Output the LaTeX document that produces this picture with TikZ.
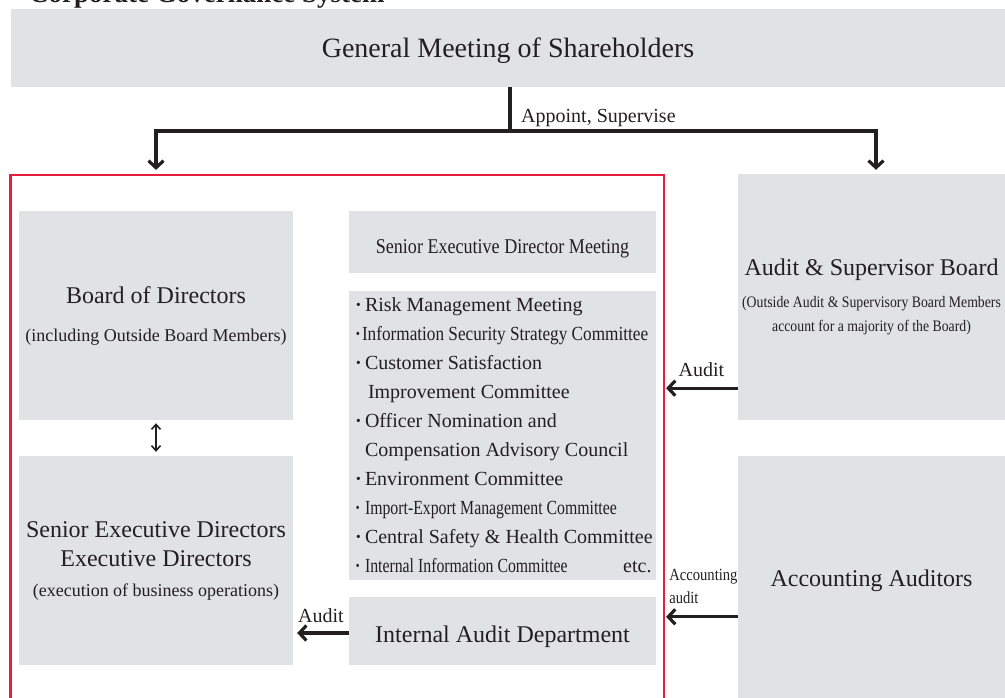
\documentclass[tikz,border=0pt]{standalone}
\usepackage{fontspec}
\setmainfont{Liberation Serif}
\newfontfamily\condfont[FakeStretch=0.86]{Liberation Serif}
\newfontfamily\narrowfont[FakeStretch=0.79]{Liberation Serif}
\usepackage{tikz}
\usetikzlibrary{arrows.meta,calc,positioning}
\definecolor{boxgray}{RGB}{225,226,228}
\definecolor{framered}{RGB}{232,28,62}
\definecolor{inkblack}{RGB}{35,31,32}
\newcommand{\fs}[2]{\fontsize{#1}{#2}\selectfont}
\newcommand{\bul}{\hspace*{4.5pt}\makebox[10pt][l]{\bfseries ·}}
\newcommand{\bulc}{\hspace*{4.5pt}\makebox[7pt][l]{\bfseries ·}}
\newcommand{\subf}{\condfont\fs{16}{24}}

\tikzset{
	box/.style={fill=boxgray, inner sep=0pt},
	one/.style={text depth=0pt},
	conn/.style={line width=3.2pt, draw=inkblack},
	arr/.style={conn, -{Straight Barb[length=7pt,width=15pt]}},
	dbl/.style={line width=1.6pt, draw=inkblack, {Straight Barb[length=5pt,width=9pt]}-{Straight Barb[length=5pt,width=9pt]}},
	lbl/.style={inner sep=0pt, font=\fs{20}{22}},
}

\begin{document}
\begin{tikzpicture}[x=1pt, y=-1pt, every node/.style={text=inkblack}]
			%%%%% START %%%%%
			\useasboundingbox (0,0) rectangle (1005,697);
			
			\node[anchor=base west, inner sep=0pt, font=\bfseries\fs{27}{30}] (title) at (29,2.5) {Corporate Governance System};
			
			\node[box, one, minimum width=994pt, minimum height=78pt, font=\fs{28}{30}] (gm) at (508,48) {General Meeting of Shareholders};
			
			\node[draw=framered, line width=2.2pt, inner sep=0pt, minimum width=653.5pt, minimum height=545pt] (grp) at (337.25,447.5) {};
			
			\node[box, minimum width=274pt, minimum height=209pt, align=center, font=\fs{24}{38}] (bod) at (156,315.5)
				{Board of Directors\\{\fs{18}{38}(including Outside Board Members)}};
			\node[box, minimum width=274pt, minimum height=209pt, align=center, font=\fs{24}{29.5}] (sed) at (156,560.5)
				{Senior Executive Directors\\Executive Directors\\{\fs{18}{29.5}(execution of business operations)}};
			
			\node[box, text height=22pt, text depth=0pt, minimum width=307pt, minimum height=62pt, font=\condfont\fs{21}{24}] (sedm) at (502.5,242) {Senior Executive Director Meeting};
			\node[box, minimum width=307pt, minimum height=289pt, align=left, font=\fs{20}{29}] (cmt) at (502.5,435.5)
				{\bul Risk Management Meeting\\
				{\condfont\bulc Information Security Strategy Committee}\\
				\bul Customer Satisfaction\\
				\hspace*{17.5pt}Improvement Committee\\
				\bul Officer Nomination and\\
				\hspace*{14.5pt}Compensation Advisory Council\\
				\bul Environment Committee\\
				{\narrowfont\bul Import-Export Management Committee}\\
				\bul Central Safety \& Health Committee\\
				\makebox[304pt][l]{{\narrowfont\bul Internal Information Committee}\hfill etc.\hspace*{3pt}}};
			\node[box, text height=22pt, text depth=0pt, minimum width=307pt, minimum height=68pt, font=\fs{24}{26}] (iad) at (502.5,631) {Internal Audit Department};
			
			\node[box, minimum width=267pt, minimum height=246pt, align=center, font=\fs{24}{24}] (asb) at (871.5,297)
				{Audit \& Supervisor Board\\[8pt]{\subf(Outside Audit \& Supervisory Board Members}\\{\subf account for a majority of the Board)}};
			\node[box, one, minimum width=267pt, minimum height=244pt, font=\fs{24}{26}] (aa) at (871.5,578) {Accounting Auditors};
			
			% appoint / supervise
			\coordinate (split) at (510,131);
			\draw[conn] (gm.south -| split) -- (split);
			\draw[arr, shorten >=4pt] (split) -| (bod.north |- grp.north);
			\draw[arr, shorten >=4pt] (split) -| ([xshift=4.5pt]asb.north);
			\node[lbl, anchor=south west, xshift=11pt, yshift=4pt] (apl) at (split) {Appoint, Supervise};
			
			\draw[dbl, shorten <=3pt, shorten >=4pt] (bod.south) -- (sed.north);
			
			% audit lines
			\coordinate (ia) at ([yshift=-2pt]iad.west);
			\draw[arr, shorten >=4pt] (ia) -- (sed.east |- ia);
			\node[lbl, anchor=south, yshift=10pt] (iadl) at ($(ia)!0.5!(sed.east |- ia)$) {Audit};
			
			\coordinate (ab) at ([yshift=32pt]asb.south west);
			\draw[arr, shorten >=1pt] (ab) -- (grp.east |- ab);
			\node[lbl, anchor=south, yshift=11pt] (asbl) at ($(ab)!0.5!(grp.east |- ab)$) {Audit};
			
			\coordinate (ac) at ([yshift=-161pt]aa.north west);
			\draw[arr, shorten >=1pt] (ac) -- (grp.east |- ac);
			\node[lbl, anchor=south west, align=left, xshift=4pt, yshift=13pt, font=\condfont\fs{17}{23}] (aal) at (grp.east |- ac) {Accounting\\audit};
			%%%%% END %%%%%
\end{tikzpicture}
\end{document}
